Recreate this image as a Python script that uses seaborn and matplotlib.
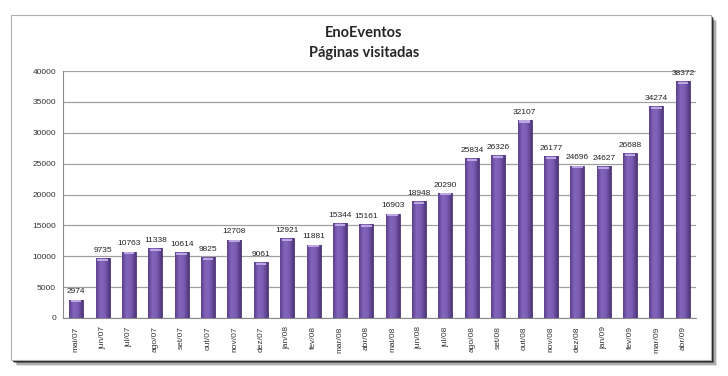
import matplotlib
matplotlib.use("Agg")
import matplotlib.pyplot as plt
import seaborn as sns
import numpy as np
import pandas as pd
from matplotlib.patches import Rectangle
from matplotlib.colors import LinearSegmentedColormap

# ====== DATA ======
meses = ["mai/07", "jun/07", "jul/07", "ago/07", "set/07", "out/07", "nov/07", "dez/07",
         "jan/08", "fev/08", "mar/08", "abr/08", "mai/08", "jun/08", "jul/08", "ago/08",
         "set/08", "out/08", "nov/08", "dez/08", "jan/09", "fev/09", "mar/09", "abr/09"]
paginas = [2974, 9735, 10763, 11338, 10614, 9825, 12708, 9061,
           12921, 11881, 15344, 15161, 16903, 18948, 20290, 25834,
           26326, 32107, 26177, 24696, 24627, 26688, 34274, 38372]
y_ticks = [0, 5000, 10000, 15000, 20000, 25000, 30000, 35000, 40000]

df = pd.DataFrame({"mes": meses, "paginas": paginas})

sns.set_style("white")
plt.rcParams["font.family"] = ["Liberation Sans", "DejaVu Sans"]

W, H = 728, 376
fig = plt.figure(figsize=(W / 100, H / 100), dpi=100)
fig.patch.set_facecolor("white")

# ====== Moldura com sombra ======
x0, y0, x1, y1 = 11, 15, 711, 360
for i, a in enumerate([0.12, 0.25, 0.45, 0.75]):
    off = 6 - i * 1.3
    fig.patches.append(Rectangle(((x0 + off) / W, 1 - (y1 + off) / H),
                                 (x1 - x0) / W, (y1 - y0) / H,
                                 transform=fig.transFigure, facecolor="#111111",
                                 edgecolor="none", alpha=a, zorder=0))
fig.patches.append(Rectangle((x0 / W, 1 - y1 / H), (x1 - x0) / W, (y1 - y0) / H,
                             transform=fig.transFigure, facecolor="white",
                             edgecolor="#b0b0b0", linewidth=0.8, zorder=1))

# ====== Eixo ======
ax = fig.add_axes([63 / W, 1 - 318 / H, (696 - 63) / W, (318 - 71) / H])
ax.set_facecolor("none")
ax.set_zorder(2)

sns.barplot(data=df, x="mes", y="paginas", color="#7454a6", width=0.53,
            saturation=1, edgecolor="#4e3478", linewidth=0.6, ax=ax, zorder=3)

ax.set_ylim(0, 40000)
ax.set_xlim(-0.5, len(meses) - 0.5)

# gradiente horizontal + brilho no topo das barras
cmap = LinearSegmentedColormap.from_list("roxo", ["#5b3f8c", "#8466bd", "#7a5bb2", "#4f3579"])
grad = np.linspace(0, 1, 64).reshape(1, -1)
for p in ax.patches:
    xl, w, h = p.get_x(), p.get_width(), p.get_height()
    im = ax.imshow(grad, cmap=cmap, aspect="auto", extent=(xl, xl + w, 0, h),
                   zorder=3.5, interpolation="bicubic")
    im.set_clip_path(p)
    ax.add_patch(Rectangle((xl + w * 0.12, h - 450), w * 0.76, 350,
                           facecolor="#bca8e0", edgecolor="none", zorder=4))
ax.set_xlim(-0.5, len(meses) - 0.5)
ax.set_ylim(0, 40000)

ax.bar_label(ax.containers[0], labels=[str(v) for v in paginas], fontsize=6,
             padding=3, color="#222222")

ax.set_yticks(y_ticks)
ax.set_yticklabels([str(t) for t in y_ticks], fontsize=6)
ax.yaxis.grid(True, color="#a0a0a0", linewidth=0.9)
ax.set_axisbelow(True)
ax.set_xlabel("")
ax.set_ylabel("")
ax.tick_params(axis="x", labelrotation=90, labelsize=6, length=0, pad=6)
ax.tick_params(axis="y", length=3, color="#8a8a8a", pad=2)
ax.set_xticks(range(len(meses)))
ax.set_xticks([i - 0.5 for i in range(len(meses) + 1)], minor=True)
ax.tick_params(axis="x", which="minor", length=3, color="#8a8a8a")
for lab in ax.get_xticklabels():
    lab.set_color("#333333")
for lab in ax.get_yticklabels():
    lab.set_color("#333333")

for s in ["top", "right"]:
    ax.spines[s].set_visible(False)
ax.spines["left"].set_color("#8a8a8a")
ax.spines["bottom"].set_color("#8a8a8a")

fig.text(0.5, 1 - 33 / H, "EnoEventos", ha="center", va="center",
         fontsize=10.5, fontweight="bold", family=["Lato", "DejaVu Sans"])
fig.text(0.5, 1 - 53 / H, "Páginas visitadas", ha="center", va="center",
         fontsize=10.5, fontweight="bold", family=["Lato", "DejaVu Sans"])

fig.savefig("out.png", dpi=100)
